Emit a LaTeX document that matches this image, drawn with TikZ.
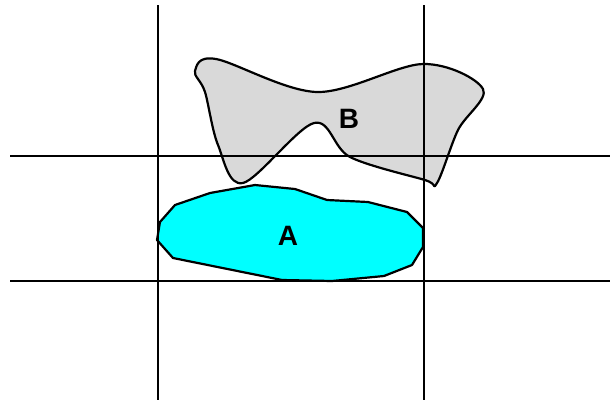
\documentclass[tikz,border=0pt]{standalone}
\usepackage{fontspec}
\setmainfont{Liberation Sans}
\usetikzlibrary{positioning}
\definecolor{regiona}{RGB}{0,255,255}
\definecolor{regionb}{RGB}{217,217,217}

\begin{document}
\begin{tikzpicture}[x=1pt, y=-1pt,
    gridline/.style={line width=2.2pt, black},
    blob/.style={line width=2.2pt, draw=black, line join=round},
    lbl/.style={font=\fontsize{28}{30}\selectfont\bfseries, inner sep=0pt}
]
    \useasboundingbox (0,0) rectangle (610,400);

    % Region A (polygon)
    \draw[blob, fill=regiona] (157,240) -- (160,222) -- (175,205) -- (210,193)
        -- (255,185) -- (295,189) -- (327,200) -- (368,202) -- (407,212)
        -- (423,228) -- (423,247) -- (412,265) -- (384,276) -- (332,281)
        -- (282,280) -- (173,258) -- cycle;

    % Region B (smooth outline)
    \draw[blob, fill=regionb] plot[smooth cycle, tension=0.55] coordinates {
        (195,71) (216,59) (317,92) (423,64) (483,89) (458,130) (437,183)
        (425,180) (350,157) (314,123) (243,183) (218,145) (205,92) };

    % Grid
    \draw[gridline] (158,5) -- (158,400);
    \draw[gridline] (424,5) -- (424,400);
    \draw[gridline] (10,156) -- (610,156);
    \draw[gridline] (10,281) -- (610,281);

    % Labels
    \node[lbl] (labA) at (288,236) {A};
    \node[lbl] (labB) at (349,119) {B};
\end{tikzpicture}
\end{document}
